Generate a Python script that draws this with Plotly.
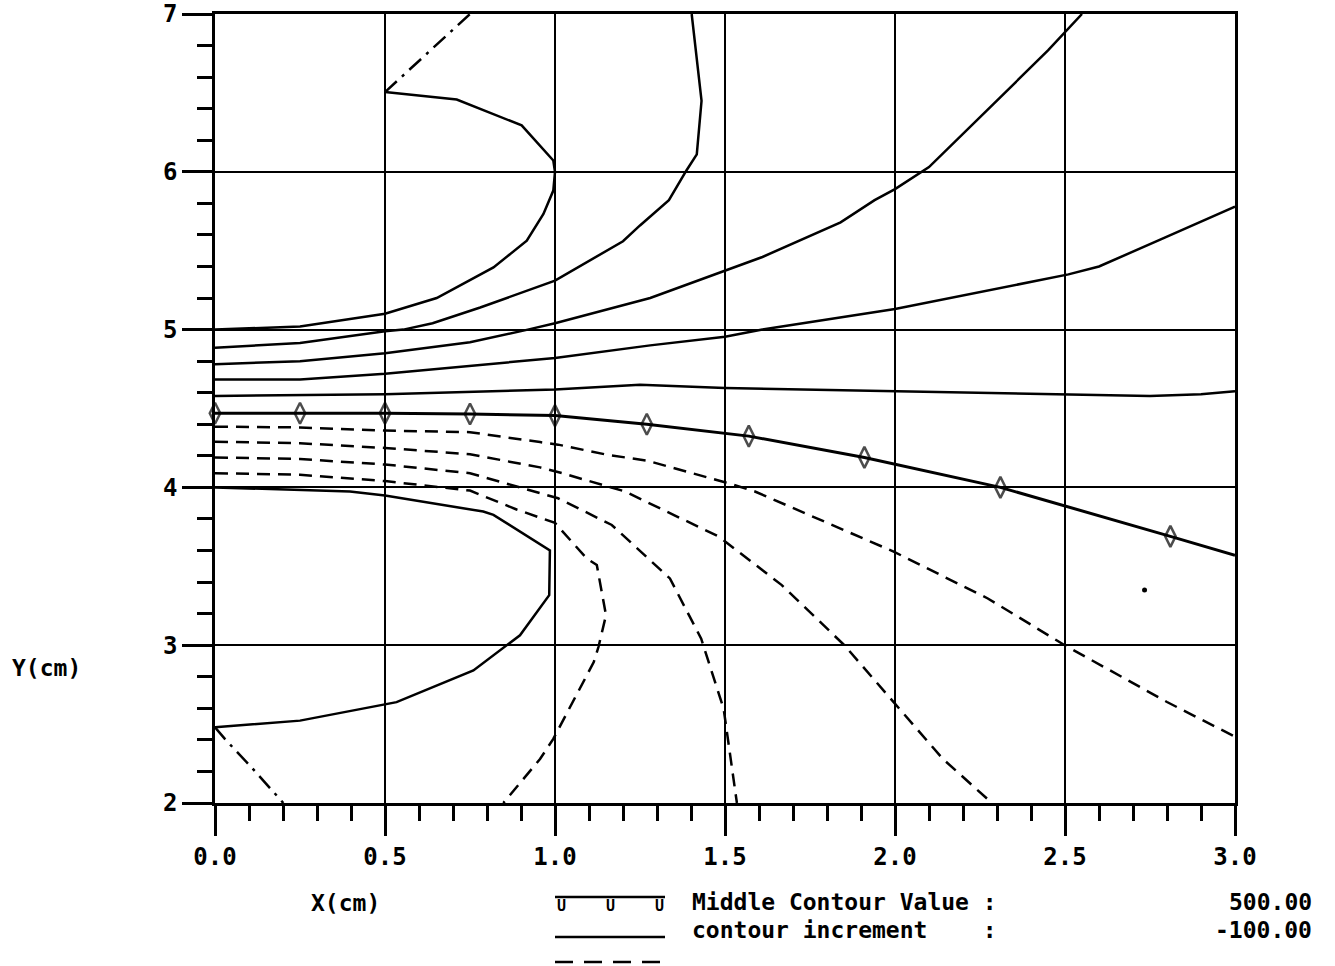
import plotly.graph_objects as go

# ---------------- data ----------------
mid500_x = [0.0, 0.25, 0.5, 0.75, 1.0, 1.27, 1.57, 1.91, 2.31, 2.81, 3.0]
mid500_y = [4.47, 4.47, 4.47, 4.465, 4.455, 4.40, 4.325, 4.19, 4.0, 3.69, 3.57]
mid500_marked = [True] * 10 + [False]

c600_x = [0.0, 0.5, 1.0, 1.25, 1.5, 2.0, 2.16, 2.5, 2.75, 2.9, 3.0]
c600_y = [4.58, 4.59, 4.62, 4.65, 4.63, 4.61, 4.60, 4.59, 4.58, 4.59, 4.61]

c700_x = [0.0, 0.25, 0.5, 1.0, 1.28, 1.5, 1.61, 2.0, 2.51, 2.6, 2.78, 3.0]
c700_y = [4.684, 4.684, 4.72, 4.82, 4.90, 4.955, 5.0, 5.13, 5.35, 5.40, 5.57, 5.78]

c800_x = [0.0, 0.25, 0.5, 0.75, 0.92, 1.0, 1.28, 1.5, 1.61, 1.84, 1.94, 2.0, 2.1, 2.29, 2.45, 2.55]
c800_y = [4.78, 4.80, 4.85, 4.92, 5.0, 5.04, 5.2, 5.37, 5.46, 5.68, 5.82, 5.89, 6.03, 6.43, 6.77, 7.0]

c900_x = [0.0, 0.25, 0.5, 0.554, 0.64, 0.78, 1.0, 1.2, 1.25, 1.335, 1.387, 1.417, 1.431, 1.402]
c900_y = [4.885, 4.915, 4.99, 5.0, 5.04, 5.14, 5.31, 5.56, 5.66, 5.82, 6.01, 6.11, 6.45, 7.0]

c1000_x = [0.0, 0.25, 0.456, 0.5, 0.652, 0.819, 0.917, 0.966, 0.995, 1.0, 0.995, 0.902, 0.711, 0.5]
c1000_y = [5.0, 5.02, 5.086, 5.10, 5.20, 5.394, 5.563, 5.733, 5.881, 6.0, 6.072, 6.294, 6.458, 6.505]

top_dashdot_x = [0.5, 0.75]
top_dashdot_y = [6.505, 7.0]

c400_x = [0.0, 0.25, 0.5, 0.75, 0.956, 1.009, 1.153, 1.272, 1.509, 1.588, 1.996, 2.273, 2.503, 2.8, 3.0]
c400_y = [4.385, 4.38, 4.36, 4.35, 4.287, 4.271, 4.207, 4.169, 4.027, 3.974, 3.593, 3.296, 2.995, 2.64, 2.42]

c300_x = [0.0, 0.25, 0.5, 0.75, 0.956, 1.021, 1.206, 1.482, 1.667, 1.851, 1.996, 2.141, 2.285]
c300_y = [4.29, 4.28, 4.25, 4.21, 4.127, 4.09, 3.974, 3.688, 3.381, 3.0, 2.639, 2.279, 2.0]

c200_x = [0.0, 0.25, 0.5, 0.75, 1.009, 1.167, 1.338, 1.43, 1.496, 1.535]
c200_y = [4.19, 4.18, 4.145, 4.09, 3.931, 3.762, 3.423, 3.041, 2.597, 2.0]

c100_x = [0.0, 0.25, 0.5, 0.75, 0.887, 1.0, 1.093, 1.123, 1.15, 1.128, 1.114, 0.995, 0.956, 0.848]
c100_y = [4.09, 4.08, 4.04, 3.98, 3.86, 3.775, 3.55, 3.508, 3.19, 2.99, 2.893, 2.406, 2.279, 2.0]

c0_x = [0.0, 0.397, 0.5, 0.642, 0.789, 0.819, 0.985, 0.983, 0.897, 0.760, 0.534, 0.25, 0.0]
c0_y = [4.0, 3.974, 3.948, 3.90, 3.847, 3.826, 3.60, 3.317, 3.063, 2.84, 2.639, 2.522, 2.48]

bot_dashdot_x = [0.0, 0.029, 0.103, 0.201]
bot_dashdot_y = [2.48, 2.406, 2.236, 2.0]

speck_x = [2.734]
speck_y = [3.35]

x_ticks = [0.0, 0.5, 1.0, 1.5, 2.0, 2.5, 3.0]
x_tick_text = ["0.0", "0.5", "1.0", "1.5", "2.0", "2.5", "3.0"]
y_ticks = [2, 3, 4, 5, 6, 7]
y_tick_text = ["2", "3", "4", "5", "6", "7"]

middle_label = "Middle Contour Value :"
increment_label = "contour increment    :"
middle_value_text = "500.00"
increment_text = "-100.00"

# ---------------- figure ----------------
FONT = "DejaVu Sans Mono"
BLACK = "black"
DASH = "13px,8px"
DASHDOT = "16px,7px,3px,7px"
LW = 2.5

fig = go.Figure()


def add_line(xs, ys, dash="solid", width=LW):
    fig.add_trace(go.Scatter(x=xs, y=ys, mode="lines",
                             line=dict(color=BLACK, width=width, dash=dash),
                             hoverinfo="skip", showlegend=False, cliponaxis=False))


for xs, ys in [(c600_x, c600_y), (c700_x, c700_y), (c800_x, c800_y),
               (c900_x, c900_y), (c1000_x, c1000_y), (c0_x, c0_y)]:
    add_line(xs, ys, "solid")

for xs, ys in [(c400_x, c400_y), (c300_x, c300_y), (c200_x, c200_y), (c100_x, c100_y)]:
    add_line(xs, ys, DASH)

add_line(top_dashdot_x, top_dashdot_y, DASHDOT)
add_line(bot_dashdot_x, bot_dashdot_y, DASHDOT)

fig.add_trace(go.Scatter(
    x=mid500_x, y=mid500_y, mode="lines+markers",
    line=dict(color=BLACK, width=3),
    marker=dict(symbol="diamond-tall-open", color=BLACK,
                size=[15 if m else 0 for m in mid500_marked],
                line=dict(color=BLACK, width=2.5)),
    hoverinfo="skip", showlegend=False, cliponaxis=False))

fig.add_trace(go.Scatter(x=speck_x, y=speck_y, mode="markers",
                         marker=dict(color=BLACK, size=5),
                         hoverinfo="skip", showlegend=False))

axis_common = dict(
    showgrid=True, gridcolor=BLACK, gridwidth=2,
    showline=True, linecolor=BLACK, linewidth=2.5, mirror=True,
    zeroline=False, automargin=False,
    ticks="outside", ticklen=30, tickwidth=2.5, tickcolor=BLACK,
    tickfont=dict(family=FONT, size=24, color=BLACK, weight="bold"),
)

fig.update_xaxes(range=[0, 3], tickvals=x_ticks, ticktext=x_tick_text,
                 minor=dict(ticks="outside", ticklen=15, tickwidth=2.5, tickcolor=BLACK,
                            dtick=0.1, tick0=0, showgrid=False),
                 **axis_common)
fig.update_yaxes(range=[2, 7], tickvals=y_ticks, ticktext=y_tick_text,
                 minor=dict(ticks="outside", ticklen=15, tickwidth=2.5, tickcolor=BLACK,
                            dtick=0.2, tick0=2, showgrid=False),
                 **axis_common)


def pxx(p):
    return (p - 215) / 1020.0


def pyy(q):
    return (803 - q) / 789.0


def text(x, y, s, xanchor="left", size=23):
    fig.add_annotation(x=pxx(x), y=pyy(y), xref="paper", yref="paper", text=s,
                       showarrow=False, xanchor=xanchor, yanchor="middle",
                       font=dict(family=FONT, size=size, color=BLACK, weight="bold"))


text(345, 903, "X(cm)", "center")
text(46, 668, "Y(cm)", "center")

text(690, 902, middle_label)
text(690, 930, increment_label)
text(1314, 902, middle_value_text, "right")
text(1314, 930, increment_text, "right")

# legend sample lines
shapes = [
    dict(type="line", xref="paper", yref="paper",
         x0=pxx(555), x1=pxx(665), y0=pyy(897), y1=pyy(897),
         line=dict(color=BLACK, width=2.5)),
    dict(type="line", xref="paper", yref="paper",
         x0=pxx(555), x1=pxx(665), y0=pyy(937), y1=pyy(937),
         line=dict(color=BLACK, width=2.5)),
    dict(type="line", xref="paper", yref="paper",
         x0=pxx(555), x1=pxx(665), y0=pyy(962), y1=pyy(962),
         line=dict(color=BLACK, width=2.5, dash="18px,11px")),
]
fig.update_layout(shapes=shapes)
for mx in [561, 610, 659]:
    text(mx, 906, "U", "center", size=15)

fig.update_layout(
    width=1335, height=966,
    margin=dict(l=215, r=100, t=14, b=163),
    paper_bgcolor="white", plot_bgcolor="white",
    showlegend=False,
    font=dict(family=FONT, color=BLACK),
)

fig.write_html("out.html")
